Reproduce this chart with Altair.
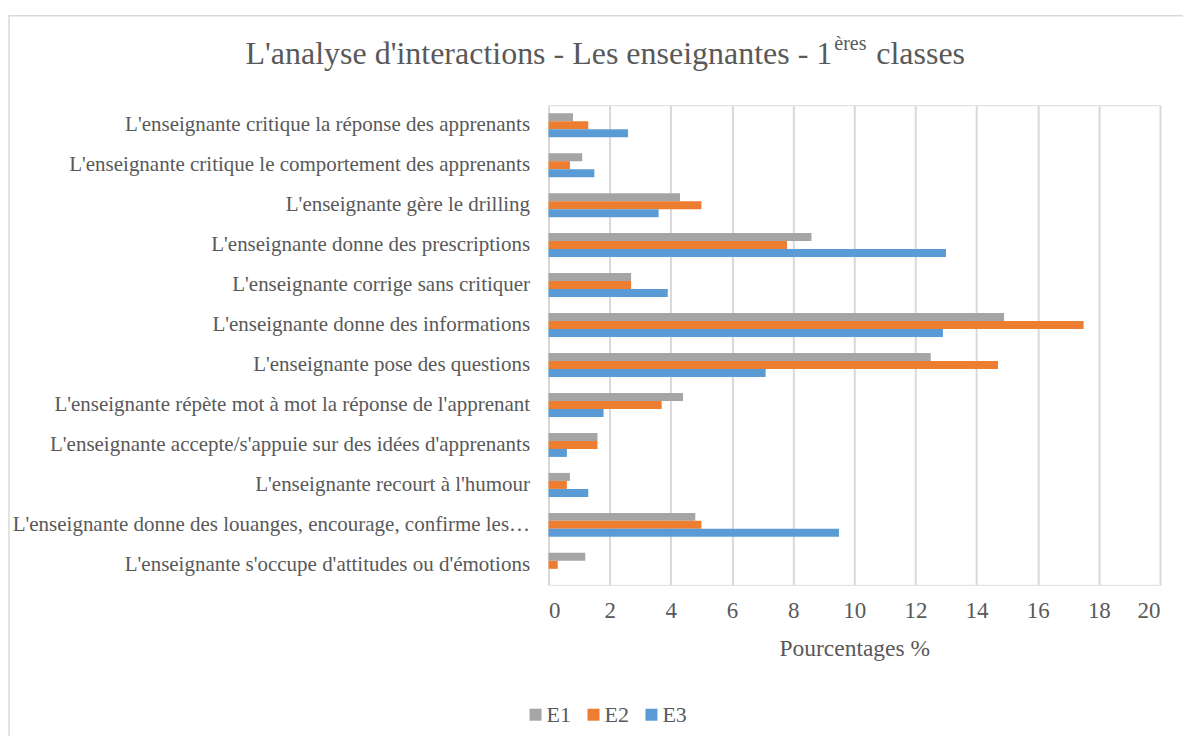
import altair as alt
import pandas as pd

categories = [
    "L'enseignante critique la réponse des apprenants",
    "L'enseignante critique le comportement des apprenants",
    "L'enseignante gère le drilling",
    "L'enseignante donne des prescriptions",
    "L'enseignante corrige sans critiquer",
    "L'enseignante donne des informations",
    "L'enseignante pose des questions",
    "L'enseignante répète mot à mot la réponse de l'apprenant",
    "L'enseignante accepte/s'appuie sur des idées d'apprenants",
    "L'enseignante recourt à l'humour",
    "L'enseignante donne des louanges, encourage, confirme les…",
    "L'enseignante s'occupe d'attitudes ou d'émotions ",
]
series = ["E1", "E2", "E3"]
e1 = [0.8, 1.1, 4.3, 8.6, 2.7, 14.9, 12.5, 4.4, 1.6, 0.7, 4.8, 1.2]
e2 = [1.3, 0.7, 5.0, 7.8, 2.7, 17.5, 14.7, 3.7, 1.6, 0.6, 5.0, 0.3]
e3 = [2.6, 1.5, 3.6, 13.0, 3.9, 12.9, 7.1, 1.8, 0.6, 1.3, 9.5, 0.0]
colors = ["#A5A5A5", "#ED7D31", "#5B9BD5"]
x_ticks = [0, 2, 4, 6, 8, 10, 12, 14, 16, 18, 20]
title_main = "L'analyse d'interactions - Les enseignantes - 1"
title_sup = "ères"
title_end = "classes"

rows = []
for s, vals in zip(series, [e1, e2, e3]):
    for c, v in zip(categories, vals):
        rows.append({"cat": c, "serie": s, "val": v})
df = pd.DataFrame(rows)

FONT = "Liberation Serif"
TXT = "#595959"
BORDER = "#D9D9D9"

bars = (
    alt.Chart(df)
    .mark_bar()
    .encode(
        y=alt.Y(
            "cat:N",
            sort=categories,
            title=None,
            scale=alt.Scale(paddingInner=0.4, paddingOuter=0.2),
            axis=alt.Axis(
                labelFont=FONT,
                labelFontSize=21,
                labelColor=TXT,
                labelLimit=700,
                labelPadding=19,
                ticks=False,
                domain=False,
                grid=False,
            ),
        ),
        yOffset=alt.YOffset("serie:N", sort=series, scale=alt.Scale(paddingInner=0, paddingOuter=0)),
        x=alt.X(
            "val:Q",
            title="Pourcentages %",
            scale=alt.Scale(domain=[0, 20], nice=False),
            axis=alt.Axis(
                values=x_ticks,
                labelFont=FONT,
                labelFontSize=23,
                labelColor=TXT,
                labelPadding=15,
                titleFont=FONT,
                titleFontSize=23.5,
                titleFontWeight="normal",
                titleColor=TXT,
                titlePadding=14,
                ticks=False,
                domain=False,
                grid=True,
                gridColor=BORDER,
                gridWidth=2,
            ),
        ),
        color=alt.Color(
            "serie:N",
            sort=series,
            scale=alt.Scale(domain=series, range=colors),
            legend=alt.Legend(
                title=None,
                orient="none",
                direction="horizontal",
                legendX=-24,
                legendY=599,
                symbolType="square",
                symbolSize=144,
                symbolStrokeWidth=0,
                labelFont=FONT,
                labelFontSize=22,
                labelColor=TXT,
                columnPadding=11,
                labelOffset=0,
            ),
        ),
    )
)

t1 = alt.Chart().mark_text(
    text=title_main, font=FONT, fontSize=32, color=TXT, align="right", baseline="alphabetic"
).encode(x=alt.value(284), y=alt.value(-41))
t2 = alt.Chart().mark_text(
    text=title_sup, font=FONT, fontSize=20, color=TXT, align="left", baseline="alphabetic"
).encode(x=alt.value(286), y=alt.value(-55))
t3 = alt.Chart().mark_text(
    text=title_end, font=FONT, fontSize=32, color=TXT, align="left", baseline="alphabetic"
).encode(x=alt.value(328), y=alt.value(-41))
top_line = alt.Chart().mark_rule(color=BORDER, strokeWidth=1.5).encode(
    x=alt.value(-540), x2=alt.value(635), y=alt.value(-89.5)
)
left_line = alt.Chart().mark_rule(color=BORDER, strokeWidth=1.5).encode(
    x=alt.value(-540), y=alt.value(-90), y2=alt.value(631)
)

chart = (
    alt.layer(top_line, left_line, bars, t1, t2, t3)
    .properties(
        width=612,
        height=480,
        padding={"left": 0, "top": 6, "right": 0, "bottom": 0},
    )
    .configure_view(strokeWidth=0)
    .configure(background="white", font=FONT)
)

chart.save("out.html", embed_options={"renderer": "svg", "actions": False})
